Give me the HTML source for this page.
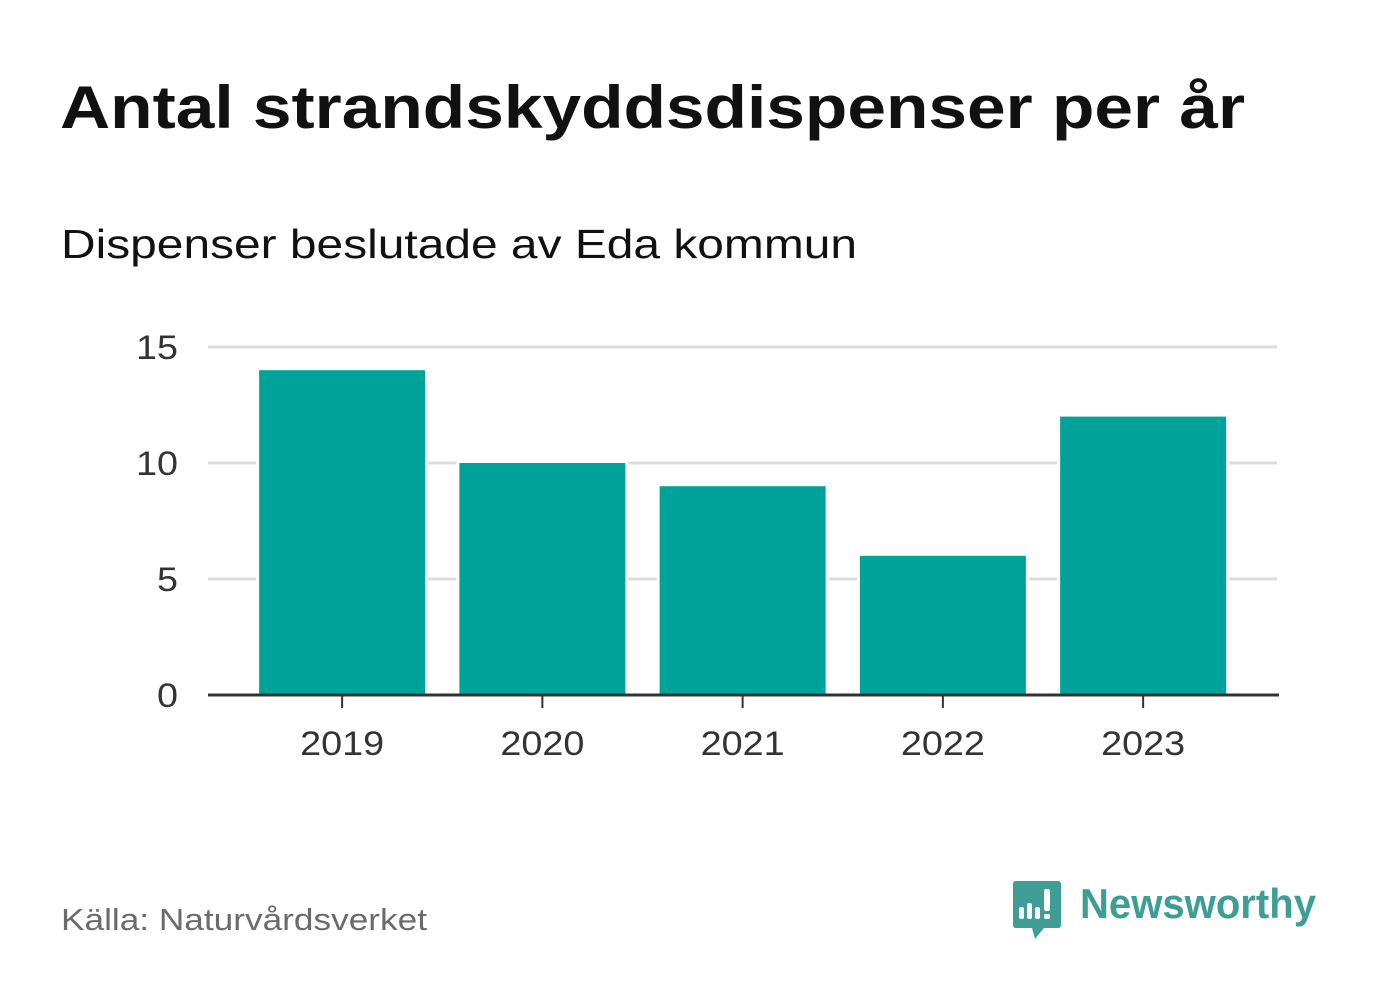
<!DOCTYPE html>
<html><head><meta charset="utf-8">
<style>
body{margin:0;background:#fff;font-family:"Liberation Sans",sans-serif;}
svg{display:block}
</style></head>
<body>
<svg id="chart" width="1382" height="999">
<text x="60" y="128" font-size="60" font-weight="bold" fill="#111" textLength="1185" lengthAdjust="spacingAndGlyphs">Antal strandskyddsdispenser per år</text>
<text x="61" y="258" font-size="41" fill="#111" textLength="796" lengthAdjust="spacingAndGlyphs">Dispenser beslutade av Eda kommun</text>
<g id="grid"></g><g id="bars"></g><g id="axes"></g>
<text x="61" y="930" font-size="31" fill="#6b6b6b" textLength="366" lengthAdjust="spacingAndGlyphs">Källa: Naturvårdsverket</text>
<g>
<path d="M1016 881 H1058 Q1061 881 1061 884 V925 Q1061 928 1058 928 H1044 L1035 939 L1032 928 H1016 Q1013 928 1013 925 V884 Q1013 881 1016 881 Z" fill="#3e9e96"/>
<rect x="1019" y="907" width="5" height="12" rx="2" fill="#fff"/>
<rect x="1027" y="903" width="5" height="16" rx="2" fill="#fff"/>
<rect x="1035" y="907" width="5" height="12" rx="2" fill="#fff"/>
<rect x="1044" y="889" width="6" height="22" rx="2" fill="#fff"/>
<rect x="1044" y="914" width="6" height="5" rx="2" fill="#fff"/>
<text x="1080" y="918" font-size="42" font-weight="bold" fill="#3e9e96" textLength="236" lengthAdjust="spacingAndGlyphs">Newsworthy</text>
</g>
</svg>
<script>
const categories = ["2019","2020","2021","2022","2023"];
const values = [14,10,9,6,12];
const yTicks = [0,5,10,15];
const NS="http://www.w3.org/2000/svg";
const y0=695, yScale=23.2, x0=242, step=200.25, bw=166;
function y(v){return y0 - v*yScale;}
function xc(i){return x0 + step*i + step/2;}
function mk(tag,attrs,parent){const e=document.createElementNS(NS,tag);for(const k in attrs)e.setAttribute(k,attrs[k]);parent.appendChild(e);return e;}
const grid=document.getElementById('grid'),bars=document.getElementById('bars'),axes=document.getElementById('axes');
yTicks.forEach(t=>{
  if(t>0){const l=mk('line',{x1:208,x2:1277,y1:y(t),y2:y(t),stroke:'#dcdcdc','stroke-width':3},grid);
  
  }
  const s=String(t);
  const tx=mk('text',{x:178,y:y(t)+12,'font-size':34,fill:'#333','text-anchor':'end',textLength:s.length*21,lengthAdjust:'spacingAndGlyphs'},axes);
  tx.textContent=t;
  
  
});
values.forEach((v,i)=>{
  const r=mk('rect',{x:xc(i)-bw/2,y:y(v),width:bw,height:y0-y(v),fill:'#00a399',stroke:'#fff','stroke-width':6,'paint-order':'stroke'},bars);
  
  
  const tk=mk('line',{x1:xc(i),x2:xc(i),y1:y0,y2:y0+13,stroke:'#333','stroke-width':2},axes);
  
  
  const tx=mk('text',{x:xc(i),y:755,'font-size':34,fill:'#333','text-anchor':'middle',textLength:84,lengthAdjust:'spacingAndGlyphs'},axes);
  tx.textContent=categories[i];
  
  
});
const ax=mk('line',{x1:208,x2:1279,y1:y0,y2:y0,stroke:'#333','stroke-width':3},axes);


</script>
</body></html>
